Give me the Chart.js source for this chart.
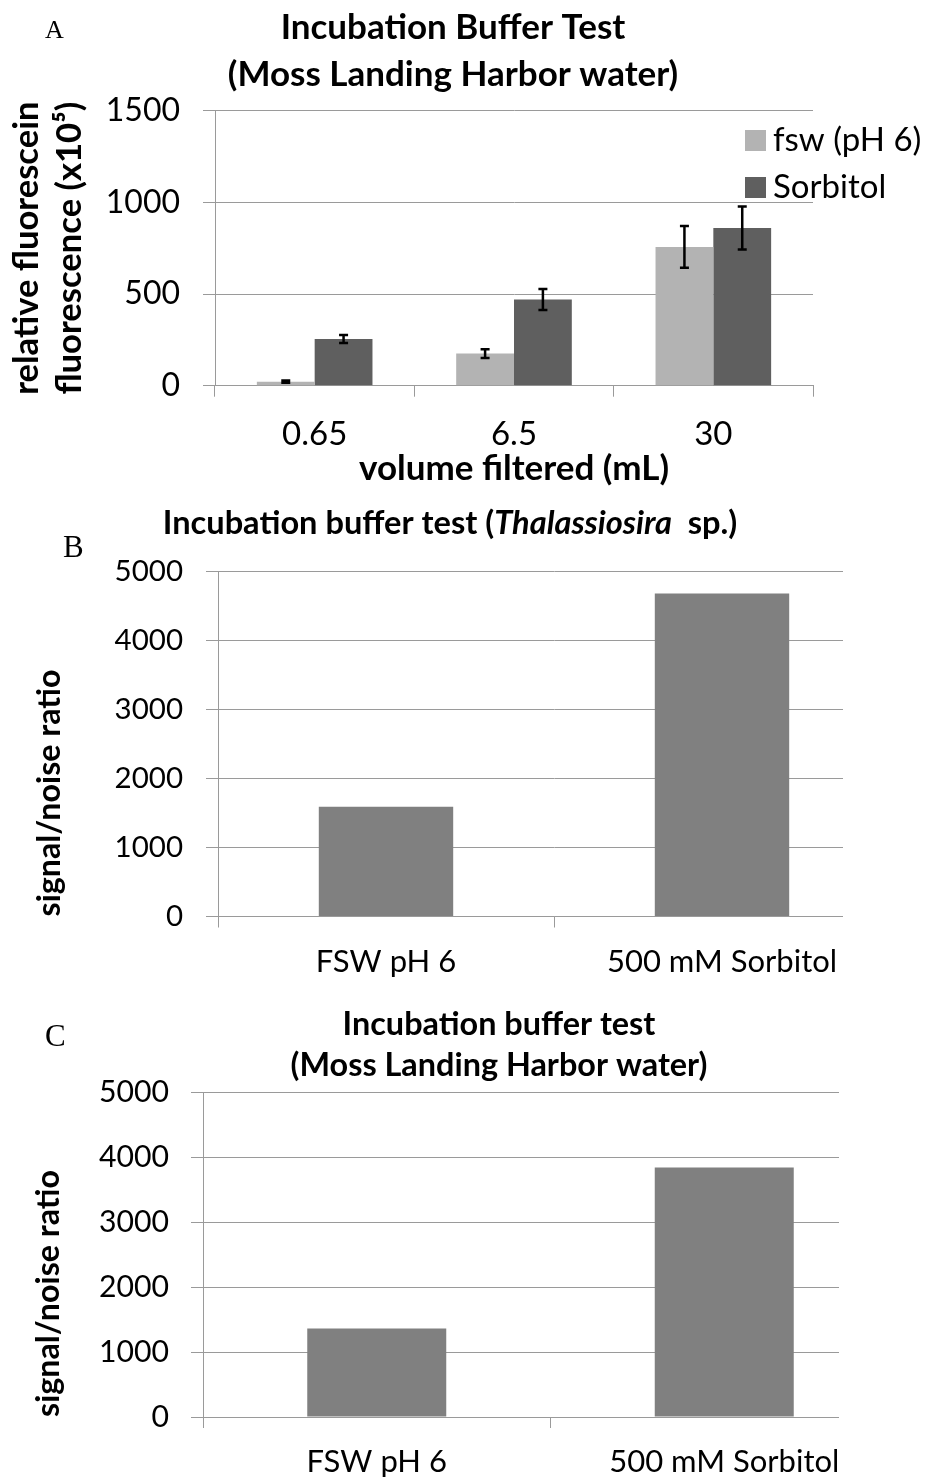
<!DOCTYPE html>
<html>
<head>
<meta charset="utf-8">
<script src="https://cdn.jsdelivr.net/npm/chart.js@4.4.1/dist/chart.umd.min.js"></script>
<style>
  html, body { margin: 0; padding: 0; background: #fff; }
  body { width: 930px; height: 1480px; position: relative; overflow: hidden; }
  .panel { position: absolute; left: 0; overflow: hidden; }
  .panel canvas { position: absolute; left: 0; top: 0; }
</style>
</head>
<body>
<div class="panel" style="top:0;width:930px;height:495px"><canvas id="chartA" width="930" height="495"></canvas></div>
<div class="panel" style="top:495px;width:843px;height:505px"><canvas id="chartB" width="930" height="505"></canvas></div>
<div class="panel" style="top:1000px;width:839px;height:480px"><canvas id="chartC" width="930" height="480"></canvas></div>
<script>
// panel A: fluorescence vs volume filtered
const volumeLabels = ['0.65', '6.5', '30'];
const fswValues = [22, 175, 757];
const fswErrors = [6, 24, 114];
const sorbitolValues = [255, 470, 860];
const sorbitolErrors = [22, 57, 117];
const ticksA = [0, 500, 1000, 1500];

// panels B and C: signal/noise ratio per buffer
const bufferLabels = ['FSW pH 6', '500 mM Sorbitol'];
const thalassiosiraValues = [1590, 4680];
const harborValues = [1360, 3840];
const ticksBC = [0, 1000, 2000, 3000, 4000, 5000];

const FONT = 'Lato';
const SERIF = '"Liberation Serif", "Times New Roman", serif';
const GRID = '#9a9a9a';

Chart.defaults.font.family = FONT;
Chart.defaults.color = '#000';

// error bars, read from dataset.errors
const errorBars = {
  id: 'errorBars',
  afterDatasetsDraw(chart, args, opts) {
    const ctx = chart.ctx;
    const y = chart.scales.y;
    chart.data.datasets.forEach((ds, i) => {
      if (!ds.errors) return;
      chart.getDatasetMeta(i).data.forEach((bar, j) => {
        const top = y.getPixelForValue(ds.data[j] + ds.errors[j]);
        const bot = y.getPixelForValue(ds.data[j] - ds.errors[j]);
        ctx.save();
        ctx.strokeStyle = opts.color;
        ctx.lineWidth = opts.width;
        ctx.beginPath();
        ctx.moveTo(bar.x, top); ctx.lineTo(bar.x, bot);
        ctx.moveTo(bar.x - opts.cap, top); ctx.lineTo(bar.x + opts.cap, top);
        ctx.moveTo(bar.x - opts.cap, bot); ctx.lineTo(bar.x + opts.cap, bot);
        ctx.stroke();
        ctx.restore();
      });
    });
  }
};

// legend laid over the top right corner of the plot
const sideLegend = {
  id: 'sideLegend',
  afterDraw(chart, args, o) {
    const ctx = chart.ctx;
    ctx.save();
    ctx.font = o.font;
    ctx.textBaseline = 'middle';
    ctx.textAlign = 'left';
    chart.data.datasets.forEach((ds, i) => {
      const cy = o.y + i * o.gap;
      ctx.fillStyle = ds.backgroundColor;
      ctx.fillRect(o.x, cy - o.box / 2, o.box, o.box);
      ctx.fillStyle = '#000';
      ctx.fillText(ds.label, o.x + o.box + o.space, cy);
    });
    ctx.restore();
  }
};

// titles and panel letters (allows mixed italic runs)
const panelText = {
  id: 'panelText',
  afterDraw(chart, args, o) {
    const ctx = chart.ctx;
    o.items.forEach(it => {
      const parts = Array.isArray(it.text) ? it.text : [{text: it.text}];
      ctx.save();
      ctx.fillStyle = '#000';
      ctx.textBaseline = 'middle';
      ctx.textAlign = 'left';
      let w = 0;
      parts.forEach(p => { ctx.font = p.font || it.font; w += ctx.measureText(p.text).width; });
      let x = it.align === 'left' ? it.x : it.x - w / 2;
      parts.forEach(p => {
        ctx.font = p.font || it.font;
        ctx.fillText(p.text, x, it.y);
        x += ctx.measureText(p.text).width;
      });
      ctx.restore();
    });
  }
};

function setTicks(list) {
  return scale => { scale.ticks = list.map(v => ({value: v})); };
}
const plain = v => String(v);

// chart A
new Chart(document.getElementById('chartA'), {
  type: 'bar',
  data: {
    labels: volumeLabels,
    datasets: [
      {label: 'fsw (pH 6)', data: fswValues, errors: fswErrors, backgroundColor: '#b3b3b3'},
      {label: 'Sorbitol', data: sorbitolValues, errors: sorbitolErrors, backgroundColor: '#5f5f5f'}
    ]
  },
  options: {
    responsive: false,
    animation: false,
    layout: {padding: {top: 110.7, right: 117, bottom: 5, left: 0}},
    datasets: {bar: {categoryPercentage: 0.58, barPercentage: 1}},
    scales: {
      x: {
        grid: {drawOnChartArea: false, tickLength: 11, color: GRID},
        border: {color: GRID},
        ticks: {font: {size: 33}, padding: 17.5},
        title: {display: true, text: 'volume filtered (mL)', font: {size: 35, weight: 'bold'}, padding: 0},
        afterFit: s => { s.height = 104.3; }
      },
      y: {
        min: 0, max: 1500,
        afterBuildTicks: setTicks(ticksA),
        grid: {color: GRID, tickLength: 12},
        border: {color: GRID},
        ticks: {font: {size: 32}, padding: 23, callback: plain},
        title: {
          display: true,
          text: ['relative fluorescein', 'fluorescence (x10\u2075)'],
          font: {size: 34.6, weight: 'bold', lineHeight: 1.243},
          padding: {top: 5, bottom: 0}
        },
        afterFit: s => { s.width = 215; }
      }
    },
    plugins: {
      legend: {display: false},
      tooltip: {enabled: false},
      errorBars: {color: '#000', width: 2.5, cap: 4.5},
      sideLegend: {x: 745, y: 140.5, gap: 47, box: 21, space: 7, font: '33px ' + FONT},
      panelText: {items: [
        {text: 'A', x: 45, y: 31, align: 'left', font: '26px ' + SERIF},
        {text: 'Incubation Buffer Test', x: 453, y: 28, font: 'bold 35px ' + FONT},
        {text: '(Moss Landing Harbor water)', x: 453, y: 75, font: 'bold 35px ' + FONT}
      ]}
    }
  },
  plugins: [errorBars, sideLegend, panelText]
});

function ratioChart(id, values, o) {
  return new Chart(document.getElementById(id), {
    type: 'bar',
    data: {
      labels: bufferLabels,
      datasets: [{label: 'signal/noise ratio', data: values, backgroundColor: '#808080'}]
    },
    options: {
      responsive: false,
      animation: false,
      layout: {padding: {top: o.top, right: o.right, bottom: 0, left: 0}},
      datasets: {bar: {categoryPercentage: 1, barPercentage: 0.4}},
      scales: {
        x: {
          grid: {drawOnChartArea: false, tickLength: 11, color: GRID},
          border: {color: GRID},
          ticks: {font: {size: 31}, padding: o.labelPad},
          afterFit: s => { s.height = o.xHeight; }
        },
        y: {
          min: 0, max: 5000,
          afterBuildTicks: setTicks(ticksBC),
          grid: {color: GRID, tickLength: 12},
          border: {color: GRID},
          ticks: {font: {size: o.tickSize}, padding: o.tickPad, callback: plain},
          title: {
            display: true, text: 'signal/noise ratio', align: 'start',
            font: {size: 32.2, weight: 'bold'}, padding: {top: o.titlePad, bottom: 0}
          },
          afterFit: s => { s.width = o.left; }
        }
      },
      plugins: {
        legend: {display: false},
        tooltip: {enabled: false},
        panelText: {items: o.texts}
      }
    },
    plugins: [panelText]
  });
}

// chart B
ratioChart('chartB', thalassiosiraValues, {
  top: 76.5, right: 40, left: 218, xHeight: 83.5, labelPad: 15.9, tickSize: 29.5, tickPad: 23, titlePad: 30.7,
  texts: [
    {text: 'B', x: 63, y: 54, align: 'left', font: '31px ' + SERIF},
    {text: [
      {text: 'Incubation buffer test ('},
      {text: 'Thalassiosira', font: 'italic bold 32.6px ' + FONT},
      {text: '  sp.)'}
    ], x: 450, y: 28, font: 'bold 32.6px ' + FONT}
  ]
});

// chart C
ratioChart('chartC', harborValues, {
  top: 92, right: 32, left: 203, xHeight: 63, labelPad: 15.4, tickSize: 30.2, tickPad: 22, titlePad: 29.3,
  texts: [
    {text: 'C', x: 45, y: 37.5, align: 'left', font: '31px ' + SERIF},
    {text: 'Incubation buffer test', x: 499, y: 25, font: 'bold 32.4px ' + FONT},
    {text: '(Moss Landing Harbor water)', x: 499, y: 66, font: 'bold 32.4px ' + FONT}
  ]
});
</script>
</body>
</html>
